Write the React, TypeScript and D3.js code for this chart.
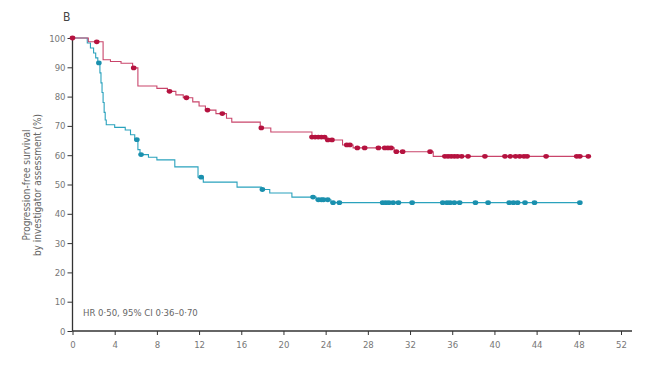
import React, { useEffect, useRef } from 'react'
import * as d3 from 'd3'

// Kaplan-Meier step points (months, % progression-free)
const redTimes = [0, 1.5, 2.9, 3.6, 4.6, 5.7, 6.2, 8.0, 9.0, 9.8, 10.5, 11.4, 12.0, 12.6, 13.6, 14.6, 15.1, 17.8, 18.8, 22.7, 24.1, 25.6, 26.6, 30.5, 34.2]
const redSurv = [100, 98.7, 92.6, 92.0, 91.4, 89.8, 83.6, 82.8, 81.8, 80.6, 79.6, 78.2, 76.8, 75.4, 74.2, 72.6, 71.3, 69.3, 67.9, 66.2, 65.2, 63.5, 62.5, 61.2, 59.6]
const redEnd = 48.9
const redCensor = [0, 2.3, 5.8, 9.2, 10.8, 12.8, 14.2, 17.9, 22.7, 23.0, 23.3, 23.6, 23.9, 24.2, 24.6, 26.0, 26.3, 27.0, 27.7, 29.0, 29.6, 29.9, 30.2, 30.7, 31.3, 33.9, 35.3, 35.6, 35.9, 36.2, 36.5, 36.9, 37.5, 39.1, 41.0, 41.5, 42.0, 42.4, 42.8, 43.1, 44.9, 47.8, 48.1, 48.9]

const tealTimes = [0, 1.4, 1.7, 2.0, 2.2, 2.4, 2.6, 2.7, 2.8, 2.9, 3.0, 3.1, 3.2, 4.0, 5.0, 5.5, 5.9, 6.2, 6.4, 7.2, 8.0, 9.7, 11.9, 12.4, 15.6, 17.9, 18.7, 20.8, 23.1, 24.5]
const tealSurv = [100, 98.3, 96.6, 94.9, 93.2, 91.5, 88.1, 84.7, 81.4, 78.0, 74.6, 72.0, 70.4, 69.5, 68.6, 67.0, 65.3, 61.9, 60.2, 59.3, 58.4, 56.0, 52.5, 50.8, 49.1, 48.3, 47.1, 45.7, 44.8, 43.8]
const tealEnd = 48.1
const tealCensor = [2.5, 6.1, 6.5, 12.2, 18.0, 22.8, 23.3, 23.6, 23.8, 24.2, 24.7, 25.3, 29.4, 29.7, 30.0, 30.4, 30.9, 32.2, 35.1, 35.5, 35.8, 36.2, 36.7, 38.2, 39.4, 41.4, 41.8, 42.2, 42.9, 43.8, 48.1]

const xTicks = [0, 4, 8, 12, 16, 20, 24, 28, 32, 36, 40, 44, 48, 52]
const yTicks = [0, 10, 20, 30, 40, 50, 60, 70, 80, 90, 100]

const RED_LINE = '#c9456b'
const RED_MARK = '#b5123f'
const TEAL_LINE = '#2aa2bd'
const TEAL_MARK = '#1a90ae'
const FONT = '"Liberation Sans Narrow", "DejaVu Sans Condensed", "Liberation Sans", sans-serif'

const width = 645, height = 366
const x = d3.scaleLinear().domain([0, 52]).range([72.5, 621])
const y = d3.scaleLinear().domain([0, 100]).range([331, 38])

function survAt(times: number[], surv: number[], t: number) {
  let v = surv[0]
  for (let i = 0; i < times.length; i++) if (times[i] <= t) v = surv[i]
  return v
}

function Curve({ times, surv, end, censor, line: lineColor, mark }: any) {
  const pts: [number, number][] = times.map((t: number, i: number) => [t, surv[i]])
  pts.push([end, surv[surv.length - 1]])
  const line = d3.line<[number, number]>()
    .x(d => x(d[0]))
    .y(d => y(d[1]))
    .curve(d3.curveStepAfter)
  return (
    <g>
      <path d={line(pts) || ''} fill="none" stroke={lineColor} strokeWidth={1.1} />
      {censor.map((t: number, i: number) => (
        <ellipse key={i} cx={x(t)} cy={y(survAt(times, surv, t))} rx={2.8} ry={2.4} fill={mark} />
      ))}
    </g>
  )
}

export default function App() {
  const xRef = useRef<SVGGElement>(null)
  const yRef = useRef<SVGGElement>(null)

  useEffect(() => {
    const xAxis = d3.axisBottom(x).tickValues(xTicks).tickSize(4).tickSizeOuter(0).tickPadding(6)
    const yAxis = d3.axisLeft(y).tickValues(yTicks).tickSize(5).tickSizeOuter(0).tickPadding(2)
    const gx = d3.select(xRef.current!)
    gx.call(xAxis as any)
    gx.select('.domain').remove()
    const gy = d3.select(yRef.current!)
    gy.call(yAxis as any)
    gy.select('.domain').remove()
    for (const g of [gx, gy]) {
      g.selectAll('line').attr('stroke', '#333').attr('stroke-width', 1)
      g.selectAll('text').attr('fill', '#777').style('font-family', FONT).style('font-size', '9.5px')
    }
  }, [])

  return (
    <svg width={width} height={height} style={{ position: 'absolute', left: 0, top: 0, background: '#fff' }}>
      <text x={63} y={21} fontFamily={FONT} fontSize={12} fill="#444">B</text>
      <g transform={`translate(0,${y(0)})`} ref={xRef} />
      <g transform={`translate(${x(0)},0)`} ref={yRef} />
      <line x1={x(0)} x2={632} y1={y(0)} y2={y(0)} stroke="#333" strokeWidth={1.3} />
      <line x1={x(0)} x2={x(0)} y1={y(0)} y2={y(100)} stroke="#333" strokeWidth={1.3} />
      <g transform="translate(35,185) rotate(-90)" fontFamily={FONT} fontSize={10} fill="#666" textAnchor="middle">
        <text x={0} y={-5}>Progression-free survival</text>
        <text x={0} y={6}>by investigator assessment (%)</text>
      </g>
      <Curve times={tealTimes} surv={tealSurv} end={tealEnd} censor={tealCensor} line={TEAL_LINE} mark={TEAL_MARK} />
      <Curve times={redTimes} surv={redSurv} end={redEnd} censor={redCensor} line={RED_LINE} mark={RED_MARK} />
      <text x={83} y={316} fontFamily={FONT} fontSize={9.5} fill="#666">HR 0·50, 95% CI 0·36–0·70</text>
    </svg>
  )
}
